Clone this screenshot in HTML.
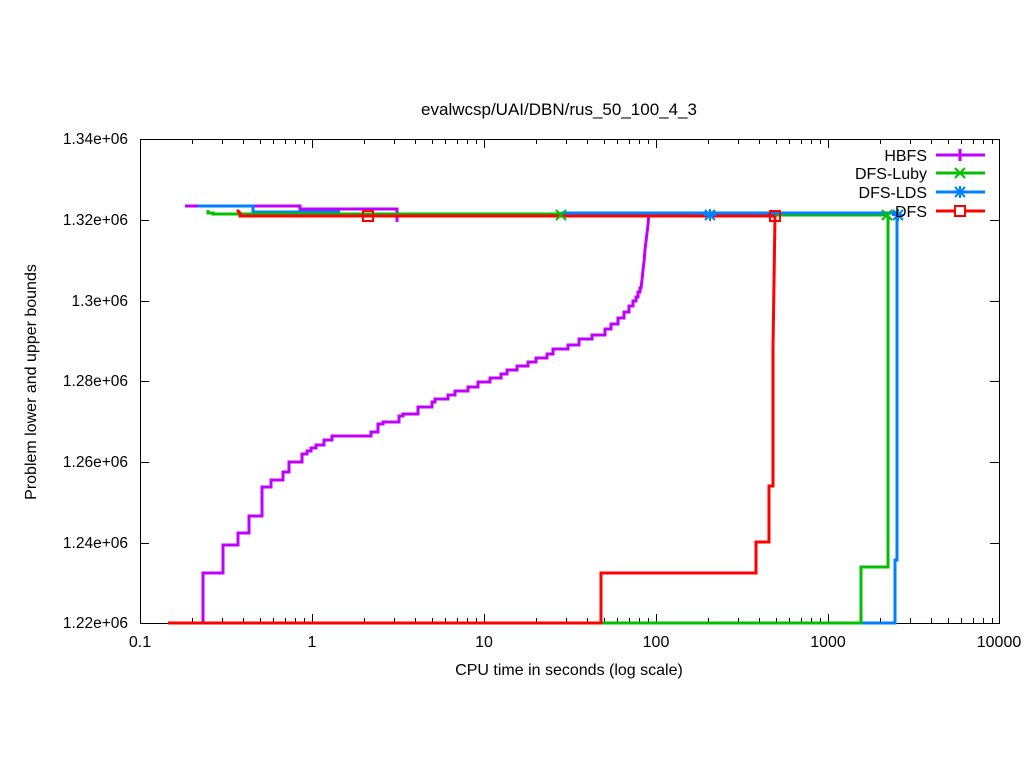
<!DOCTYPE html>
<html><head><style>body{margin:0;background:#fff}svg{display:block;font-family:"Liberation Sans",sans-serif}</style></head><body>
<svg width="1024" height="768" viewBox="0 0 1024 768" xmlns="http://www.w3.org/2000/svg">
<rect width="1024" height="768" fill="#fff"/>
<text x="559" y="115" font-size="17" text-anchor="middle">evalwcsp/UAI/DBN/rus_50_100_4_3</text>
<g stroke="#000" stroke-width="1" fill="none">
<rect x="140.5" y="139.5" width="859" height="484"/>
<path d="M140 220.5h9M999 220.5h-9M140 301.5h9M999 301.5h-9M140 381.5h9M999 381.5h-9M140 462.5h9M999 462.5h-9M140 543.5h9M999 543.5h-9"/>
<path d="M312.5 623v-9M312.5 139v9M484.5 623v-9M484.5 139v9M656.5 623v-9M656.5 139v9M828.5 623v-9M828.5 139v9"/>
</g>
<g stroke="#000" fill="none">
<path d="M192.5 623v-5M222.5 623v-5M243.5 623v-5M260.5 623v-5M273.5 623v-5M285.5 623v-5M295.5 623v-5M304.5 623v-5M192.5 139v5M222.5 139v5M243.5 139v5M260.5 139v5M273.5 139v5M285.5 139v5M295.5 139v5M304.5 139v5"/>
<path d="M192.5 623v-5M222.5 623v-5M243.5 623v-5M260.5 623v-5M273.5 623v-5M285.5 623v-5M295.5 623v-5M304.5 623v-5M192.5 139v5M222.5 139v5M243.5 139v5M260.5 139v5M273.5 139v5M285.5 139v5M295.5 139v5M304.5 139v5" transform="translate(172,0)"/>
<path d="M192.5 623v-5M222.5 623v-5M243.5 623v-5M260.5 623v-5M273.5 623v-5M285.5 623v-5M295.5 623v-5M304.5 623v-5M192.5 139v5M222.5 139v5M243.5 139v5M260.5 139v5M273.5 139v5M285.5 139v5M295.5 139v5M304.5 139v5" transform="translate(344,0)"/>
<path d="M192.5 623v-5M222.5 623v-5M243.5 623v-5M260.5 623v-5M273.5 623v-5M285.5 623v-5M295.5 623v-5M304.5 623v-5M192.5 139v5M222.5 139v5M243.5 139v5M260.5 139v5M273.5 139v5M285.5 139v5M295.5 139v5M304.5 139v5" transform="translate(516,0)"/>
<path d="M192.5 623v-5M222.5 623v-5M243.5 623v-5M260.5 623v-5M273.5 623v-5M285.5 623v-5M295.5 623v-5M304.5 623v-5M192.5 139v5M222.5 139v5M243.5 139v5M260.5 139v5M273.5 139v5M285.5 139v5M295.5 139v5M304.5 139v5" transform="translate(688,0)"/>
</g>
<g font-size="15.5" text-anchor="end">
<text x="128" y="144">1.34e+06</text><text x="128" y="225">1.32e+06</text><text x="128" y="306">1.3e+06</text><text x="128" y="386">1.28e+06</text><text x="128" y="467">1.26e+06</text><text x="128" y="548">1.24e+06</text><text x="128" y="628">1.22e+06</text>
</g>
<g font-size="16" text-anchor="middle">
<text x="140" y="647">0.1</text><text x="312" y="647">1</text><text x="484" y="647">10</text><text x="656" y="647">100</text><text x="828" y="647">1000</text><text x="999" y="647">10000</text>
<text x="569" y="675">CPU time in seconds (log scale)</text>
<text transform="translate(36,382) rotate(-90)">Problem lower and upper bounds</text>
</g>
<g fill="none" stroke-width="3" stroke-linejoin="miter">
<path stroke="#c000ff" d="M185 206H300V209H397V222M168 623H203V573H223V545H238V533H249V516H262V487H271V480H283V472H289V462H302V454H307V451H311V448H316V445H324V440H332V436H371V432H378V424H383V422H399V416H403V414H418V407H432V402H435V399H448V395H455V391H468V387H478V382H490V378H501V374H507V370H517V366H528V362H536V358H547V354H553V349H568V345H579V339H592V335H605V329H611V324H618V318H624V312H629V306H633V301H636V297H638V292H640V288H641L642 280L643 270L644 262L645 250L647 233L648 225L649 212"/>
<path stroke="#0080ff" d="M198 206H253V212H340M601 623H895V560H897V213"/>
<path stroke="#00c000" d="M208 210V213H213V214H561M561 215H888M168 623H861V567H888V214"/>
<path stroke="#0080ff" d="M561 213H898"/>
<path stroke="#ff0000" d="M237 210L240 213V216H775M168 623H601V573H756V542H769V486H773V348L775 216"/>
</g>
<g fill="none" stroke-width="2">
<rect x="363" y="211" width="10" height="10" stroke="#ff0000"/>
<rect x="770" y="211" width="10" height="10" stroke="#ff0000"/>
<path stroke="#00c000" d="M556 210l10 10M566 210l-10 10M882 210l10 10M892 210l-10 10"/>
<path stroke="#0080ff" d="M705 210l10 10M715 210l-10 10M710 209v12M704 215h12M893 210l10 10M903 210l-10 10M898 209v12M892 215h12"/>
</g>
<g font-size="16" text-anchor="end">
<text x="927" y="161">HBFS</text><text x="927" y="179">DFS-Luby</text><text x="927" y="198">DFS-LDS</text><text x="927" y="217">DFS</text>
</g>
<g fill="none" stroke-width="3">
<path stroke="#c000ff" d="M936 155H985M960 149v12"/>
<path stroke="#00c000" d="M936 173H985"/><path stroke="#00c000" stroke-width="2" d="M955 168l10 10M965 168l-10 10"/>
<path stroke="#0080ff" d="M936 192H985"/><path stroke="#0080ff" stroke-width="2" d="M955 187l10 10M965 187l-10 10M960 186v12M954 192h12"/>
<path stroke="#ff0000" d="M936 211H985"/><rect x="955" y="206" width="10" height="10" stroke="#ff0000" stroke-width="2" fill="#fff"/>
</g>
</svg>
</body></html>
